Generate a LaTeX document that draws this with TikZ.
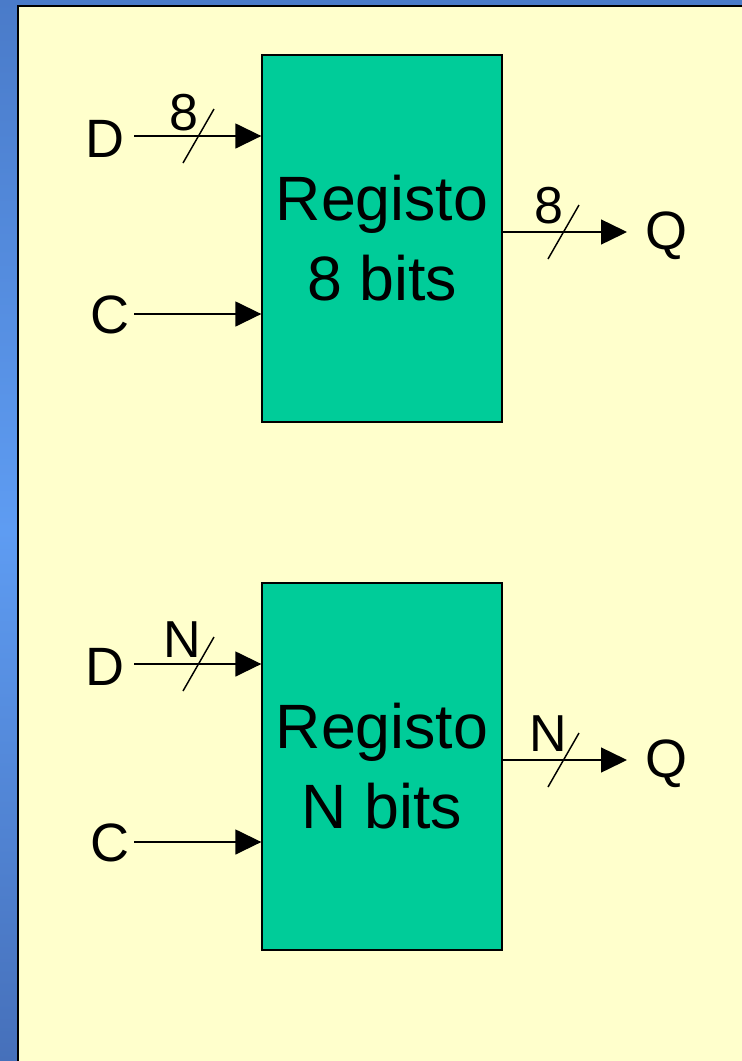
\documentclass[tikz,border=0pt]{standalone}
\usepackage{fontspec}
\setmainfont{Liberation Sans}
\usetikzlibrary{arrows.meta}
\definecolor{bgyellow}{HTML}{FFFFCC}
\definecolor{boxteal}{HTML}{00CC99}
\definecolor{bluetop}{HTML}{4A7BC9}
\definecolor{bluemid}{HTML}{5E9CF2}
\definecolor{bluebot}{HTML}{4670BA}
\tikzset{
  regbox/.style={draw=black, line width=1pt, fill=boxteal, minimum width=180pt, minimum height=275.25pt, inner sep=0pt, align=center, font=\fontsize{47}{60}\selectfont},
  lbl/.style={inner sep=0pt, font=\fontsize{40.5}{48}\selectfont},
  buslbl/.style={inner sep=0pt, font=\fontsize{39}{46}\selectfont},
  sig/.style={line width=1.1pt, -{Triangle[length=19.5pt, width=18.75pt]}},
  busslash/.style={line width=1.1pt}
}
\begin{document}
\begin{tikzpicture}[x=0.75pt, y=-0.75pt]
\useasboundingbox (0,0) rectangle (742,1061);
% background
\shade[top color=bluetop, bottom color=bluebot, middle color=bluemid] (0,0) rectangle (19,1061);
\fill[bluetop] (19,0) rectangle (742,7);
\filldraw[fill=bgyellow, draw=black, line width=1.5pt] (18,6) rectangle (748,1068);

% ---------- upper register ----------
\node[regbox] (r1) at (382,238.5) {Registo\\8 bits};
\node[lbl, anchor=base] (D1) at (105,157) {D};
\node[lbl, anchor=base] (C1) at (110,333) {C};
\node[lbl, anchor=base] (Q1) at (666,249) {Q};
\coordinate (d1in) at (134,136);
\coordinate (c1in) at (134,314);
\coordinate (q1out) at (627,232);
\draw[sig] (d1in) -- (d1in -| r1.west);
\draw[sig] (c1in) -- (c1in -| r1.west);
\draw[sig] (q1out -| r1.east) -- (q1out);
\draw[busslash] ([shift={(49,27)}]d1in) -- ++(31,-54);
\draw[busslash] ([shift={(-79,27)}]q1out) -- ++(31,-54);
\node[buslbl, anchor=base] (nD1) at (183.5,130) {8};
\node[buslbl, anchor=base] (nQ1) at (548.5,223) {8};

% ---------- lower register ----------
\node[regbox] (r2) at (382,766.5) {Registo\\N bits};
\node[lbl, anchor=base] (D2) at (105,685) {D};
\node[lbl, anchor=base] (C2) at (110,861) {C};
\node[lbl, anchor=base] (Q2) at (666,777) {Q};
\coordinate (d2in) at (134,664);
\coordinate (c2in) at (134,842);
\coordinate (q2out) at (627,760);
\draw[sig] (d2in) -- (d2in -| r2.west);
\draw[sig] (c2in) -- (c2in -| r2.west);
\draw[sig] (q2out -| r2.east) -- (q2out);
\draw[busslash] ([shift={(49,27)}]d2in) -- ++(31,-54);
\draw[busslash] ([shift={(-79,27)}]q2out) -- ++(31,-54);
\node[buslbl, anchor=base] (nD2) at (182.5,657) {N};
\node[buslbl, anchor=base] (nQ2) at (548.5,751) {N};
\end{tikzpicture}
\end{document}
